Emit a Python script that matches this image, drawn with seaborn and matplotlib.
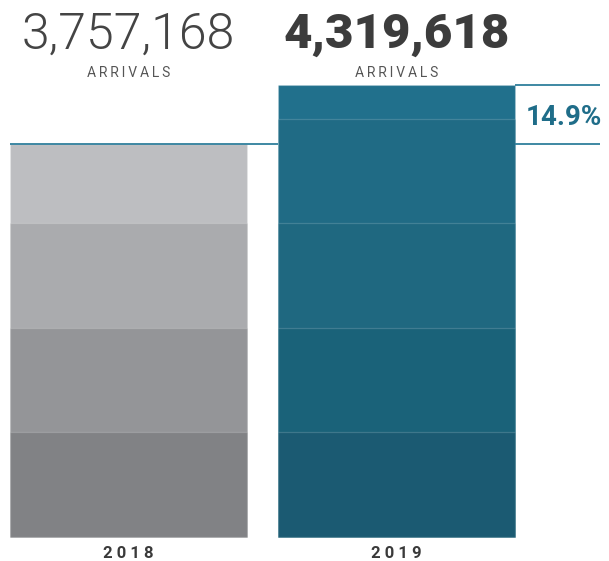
import matplotlib
matplotlib.use("Agg")
import matplotlib.pyplot as plt
import seaborn as sns
import numpy as np

# Arrivals per year, split into stacked bands (bottom to top)
years = ["2018", "2019"]
bands_2018 = [1_000_000, 1_000_000, 1_000_000, 757_168]
bands_2019 = [1_000_000, 1_000_000, 1_000_000, 1_000_000, 319_618]
band_colors_2018 = ["#818285", "#949598", "#aaabae", "#bdbec1"]
band_colors_2019 = ["#1b5a72", "#1a6279", "#1f6880", "#206b85", "#21708c"]
total_labels = ["3,757,168", "4,319,618"]
change_label = "14.9%"

bands = [bands_2018, bands_2019]
band_colors = [band_colors_2018, band_colors_2019]
totals = [sum(b) for b in bands]

sns.set_style("white")
plt.rcParams["font.family"] = ["Roboto", "DejaVu Sans"]

fig = plt.figure(figsize=(6.09, 5.61), dpi=100)
ax = fig.add_axes([0, 0, 1, 1])

bar_width = 0.884
teal = "#2f7f9c"

# Stacked bars: draw cumulative heights from the tallest down
for i, year in enumerate(years):
    cum = np.cumsum(bands[i])
    for k in range(len(cum) - 1, -1, -1):
        sns.barplot(x=[year], y=[cum[k]], order=years, color=band_colors[i][k],
                    width=bar_width, saturation=1, ax=ax,
                    edgecolor=(1, 1, 1, 0.16), linewidth=0.9, zorder=2)

# Reference lines marking each year's total
x_right = 1.759
left0, left1, right1 = -bar_width / 2, 1 - bar_width / 2, 1 + bar_width / 2
for xs, y in (([left0, left1], totals[0]), ([right1, x_right], totals[0]),
              ([right1, x_right], totals[1])):
    ax.plot(xs, [y, y], color=teal, lw=1.3, zorder=3, solid_capstyle="butt")

ax.set_xlim(-0.4795, 1.7929)
ax.set_ylim(-229_400, 5_134_000)
ax.axis("off")

# Totals and captions
tr = ax.get_xaxis_transform()
ax.text(0, 0.9127, total_labels[0], transform=tr, ha="center", va="baseline",
        fontsize=36, fontweight=300, color="#444444")
ax.text(1, 0.9145, total_labels[1], transform=tr, ha="center", va="baseline",
        fontsize=35.5, fontweight=900, color="#3c3c3c")
for x in (0, 1):
    ax.text(x, 0.8636, "\u2009".join("ARRIVALS"), transform=tr, ha="center",
            va="baseline", fontsize=10, color="#555555")
for x, year in enumerate(years):
    ax.text(x, 0.0053, " ".join(year), transform=tr, ha="center", va="baseline",
            fontsize=12, fontweight="bold", color="#3a3a3a")
ax.text(1.623, 0.7772, change_label, transform=tr, ha="center", va="baseline",
        fontsize=20, fontweight="bold", color="#1f6d89")

fig.savefig("out.png", dpi=100)
